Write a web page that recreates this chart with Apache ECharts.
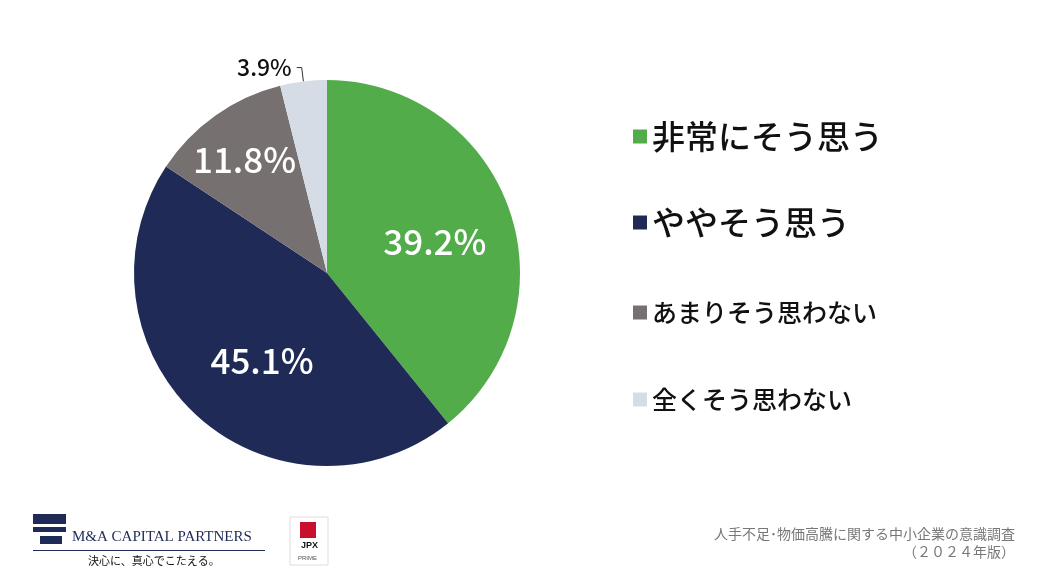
<!DOCTYPE html><html><head><meta charset="utf-8"><script src="https://cdn.jsdelivr.net/npm/echarts@6/dist/echarts.min.js"></script>
<style>body{margin:0}#c{width:1040px;height:585px}</style></head><body><div id="c"></div><script>
const categories=['非常にそう思う','ややそう思う','あまりそう思わない','全くそう思わない'];
const values=[39.2,45.1,11.8,3.9];
const colors=['#52ac4a','#1f2a57','#767170','#d6dce5'];
const font='"Noto Sans CJK JP","Noto Sans",sans-serif';
const offsets=[[14,2],[2,14],[-25,-32],[0,0]];
const legendTops=[115,201,295,382];
const ch=echarts.init(document.getElementById('c'));
const data=categories.map((n,i)=>{const d={name:n,value:values[i],itemStyle:{color:colors[i]},label:{offset:offsets[i]}};
 if(i===3){d.label={position:'outside',color:'#111',fontSize:23,fontWeight:500};d.labelLine={show:true,length:14,length2:5,lineStyle:{color:'#333',width:1}};}
 return d;});
ch.setOption({backgroundColor:'#fff',
legend:categories.map((n,i)=>({orient:'vertical',left:628,top:legendTops[i],itemWidth:14,itemHeight:14,icon:'rect',
 textStyle:{fontFamily:font,color:'#111',fontWeight:500,fontSize:i<2?33:25},data:[n]})),
series:[{type:'pie',center:[327,273],radius:[0,193],startAngle:90,clockwise:true,
 label:{position:'inner',formatter:p=>p.value.toFixed(1)+'%',color:'#fff',fontSize:35,fontWeight:500,fontFamily:font},
 labelLine:{show:false},data:data}],
graphic:[
 {type:'rect',shape:{x:33,y:514,width:33,height:10},style:{fill:'#1f2a57'}},
 {type:'rect',shape:{x:33,y:527,width:33,height:5},style:{fill:'#1f2a57'}},
 {type:'rect',shape:{x:40,y:536,width:22,height:8},style:{fill:'#1f2a57'}},
 {type:'text',left:72,top:530,style:{text:'M&A CAPITAL PARTNERS',font:'15px "Liberation Serif",serif',fill:'#1f2a57'}},
 {type:'rect',shape:{x:33,y:550,width:232,height:1},style:{fill:'#1f2a57'}},
 {type:'text',left:88,top:555,style:{text:'決心に、真心でこたえる。',font:'11px '+font,fill:'#111'}},
 {type:'rect',shape:{x:290,y:517,width:38,height:48},style:{fill:'#fff',stroke:'#ddd'}},
 {type:'rect',shape:{x:300,y:522,width:16,height:16},style:{fill:'#c8102e'}},
 {type:'text',left:301,top:541,style:{text:'JPX',font:'bold 9px sans-serif',fill:'#111'}},
 {type:'text',left:298,top:555,style:{text:'PRIME',font:'6px sans-serif',fill:'#555'}},
 {type:'text',x:1015,y:527,style:{text:'人手不足･物価高騰に関する中小企業の意識調査',font:'14px '+font,fill:'#777',align:'right'}},
 {type:'text',x:1015,y:545,style:{text:'（２０２４年版）',font:'14px '+font,fill:'#777',align:'right'}}
]});
</script></body></html>
